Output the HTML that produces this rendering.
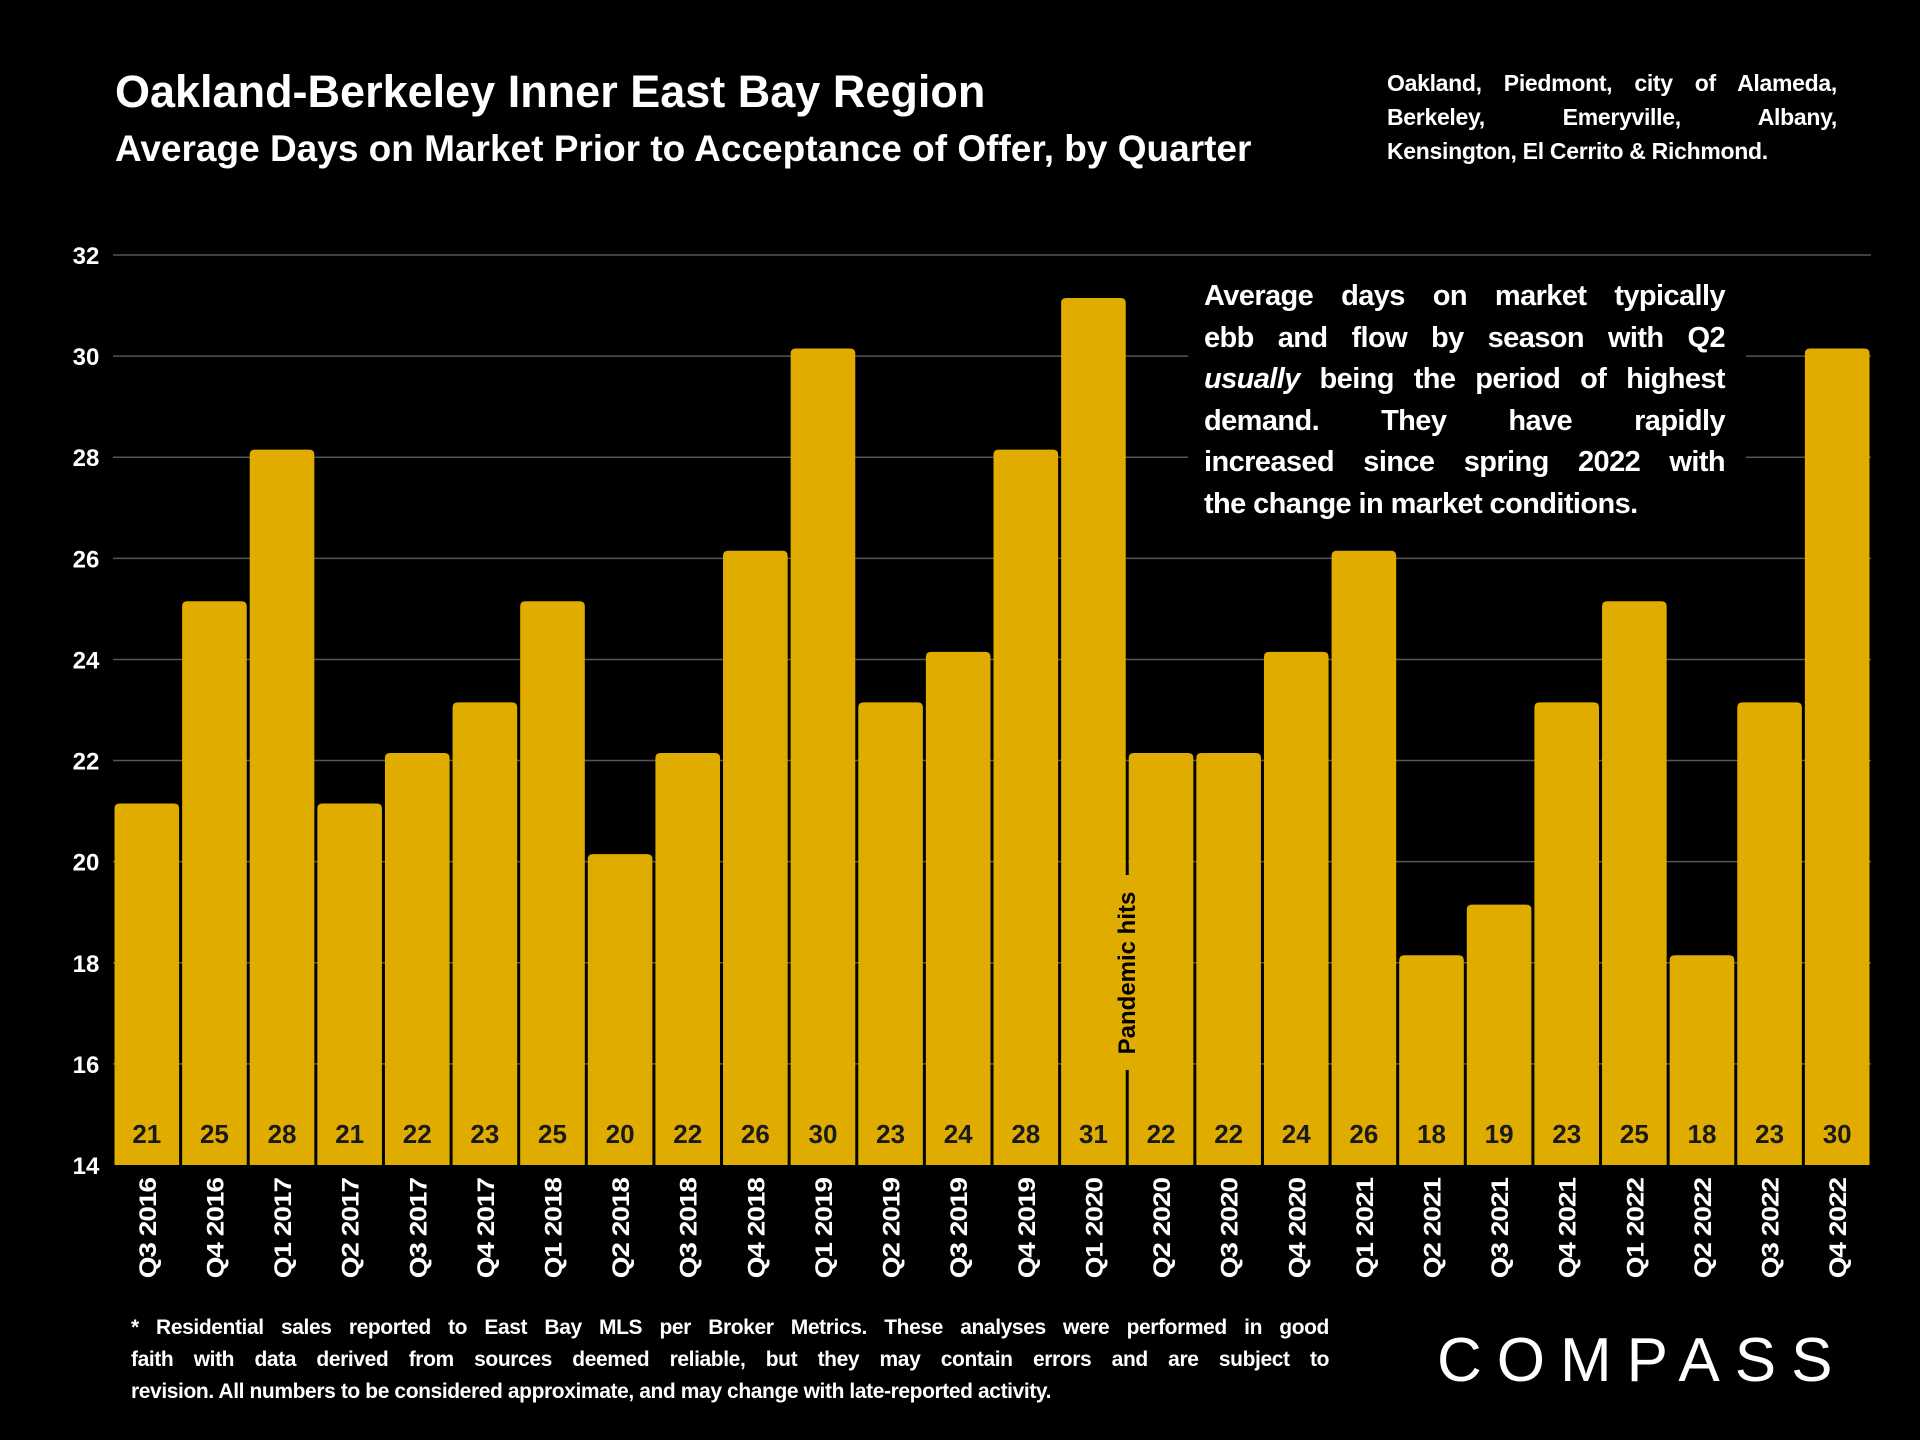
<!DOCTYPE html>
<html><head><meta charset="utf-8"><style>
body{margin:0;background:#000;width:1920px;height:1440px;overflow:hidden;font-family:"Liberation Sans",sans-serif;color:#fff}
.abs{position:absolute}
.j span{display:block;text-align:justify;text-align-last:justify;white-space:nowrap}
.j span.last{text-align-last:left}
</style></head><body>
<div class="abs" style="left:115px;top:66px;font-size:45px;font-weight:bold;letter-spacing:0px">Oakland-Berkeley Inner East Bay Region</div>
<div class="abs" style="left:115px;top:128px;font-size:37px;font-weight:bold;letter-spacing:0px">Average Days on Market Prior to Acceptance of Offer, by Quarter</div>
<div class="abs j" style="left:1387px;top:66px;width:450px;font-size:23px;font-weight:bold;line-height:34px;letter-spacing:-0.3px"><span>Oakland, Piedmont, city of Alameda,</span><span>Berkeley, Emeryville, Albany,</span><span class="last">Kensington, El Cerrito &amp; Richmond.</span></div>
<svg class="abs" style="left:0;top:0" width="1920" height="1440" id="chart"></svg>
<div class="abs" style="left:1188px;top:278px;width:558px;height:250px;background:#000"></div>
<div class="abs j" style="left:1204px;top:276px;width:521px;font-size:29px;font-weight:bold;line-height:41.6px;letter-spacing:-0.6px"><span>Average days on market typically</span><span>ebb and flow by season with Q2</span><span><i>usually</i> being the period of highest</span><span>demand. They have rapidly</span><span>increased since spring 2022 with</span><span class="last">the change in market conditions.</span></div>
<div class="abs j" style="left:131px;top:1312px;width:1198px;font-size:21px;font-weight:bold;line-height:32px;letter-spacing:-0.4px"><span>* Residential sales reported to East Bay MLS per Broker Metrics. These analyses were performed in good</span><span>faith with data derived from sources deemed reliable, but they may contain errors and are subject to</span><span class="last">revision. All numbers to be considered approximate, and may change with late-reported activity.</span></div>
<div class="abs" style="left:1437px;top:1325px;font-size:62px;letter-spacing:15px;color:#fff">COMPASS</div>
<script>
const categories=["Q3 2016","Q4 2016","Q1 2017","Q2 2017","Q3 2017","Q4 2017","Q1 2018","Q2 2018","Q3 2018","Q4 2018","Q1 2019","Q2 2019","Q3 2019","Q4 2019","Q1 2020","Q2 2020","Q3 2020","Q4 2020","Q1 2021","Q2 2021","Q3 2021","Q4 2021","Q1 2022","Q2 2022","Q3 2022","Q4 2022"];
const values=[21.15,25.15,28.15,21.15,22.15,23.15,25.15,20.15,22.15,26.15,30.15,23.15,24.15,28.15,31.15,22.15,22.15,24.15,26.15,18.15,19.15,23.15,25.15,18.15,23.15,30.15];
const yTicks=[14,16,18,20,22,24,26,28,30,32];
const NS="http://www.w3.org/2000/svg";
const svg=document.getElementById('chart');
const L=113,R=1871,T=255,B=1165,yMin=14,yMax=32;
const y=v=>B-(v-yMin)/(yMax-yMin)*(B-T);
const bw=(R-L)/categories.length;
const x=i=>L+i*bw;
function mk(t,a){const e=document.createElementNS(NS,t);for(const k in a)e.setAttribute(k,a[k]);svg.appendChild(e);return e;}
yTicks.forEach(t=>{
 if(t>yMin){const g=mk('line',{x1:L,x2:R,y1:y(t),y2:y(t),stroke:'#555','stroke-width':1.5});
 
 }
 const tx=mk('text',{x:86,y:y(t)+9,'text-anchor':'middle','font-size':24,'font-weight':'bold',fill:'#fff','font-family':'Liberation Sans'});
 tx.textContent=t;
 
 
});
categories.forEach((c,i)=>{
 const v=values[i];
 const r=mk('path',{d:`M${x(i)+1.5},${B} V${y(v)+5} Q${x(i)+1.5},${y(v)} ${x(i)+6.5},${y(v)} H${x(i)+bw-6.5} Q${x(i)+bw-1.5},${y(v)} ${x(i)+bw-1.5},${y(v)+5} V${B} Z`,fill:'#e0ac00'});
 
 
 const lb=mk('text',{x:x(i)+bw/2,y:1143,'text-anchor':'middle','font-size':26,'font-weight':'bold',fill:'#1a1a1a','font-family':'Liberation Sans'});
 lb.textContent=Math.round(v);
 
 
 const cx=x(i)+bw/2+9;
 const xl=mk('text',{x:0,y:0,'text-anchor':'end','font-size':24,'font-weight':'bold',fill:'#fff','font-family':'Liberation Sans',transform:`translate(${cx},1178) rotate(-90) scale(1.16,1)`,'letter-spacing':'-0.8'});
 xl.textContent=c;
 
 
});
const px=x(15);
const pl=mk('line',{x1:px,x2:px,y1:845,y2:1065,stroke:'#000','stroke-width':2});


const pr=mk('rect',{x:px-16,y:875,width:32,height:195,fill:'#e0ac00'});


const pt=mk('text',{x:0,y:0,'text-anchor':'middle','font-size':24,'font-weight':'bold',fill:'#000','font-family':'Liberation Sans',transform:`translate(${px+8},973) rotate(-90)`});
pt.textContent='Pandemic hits';


</script>
</body></html>
